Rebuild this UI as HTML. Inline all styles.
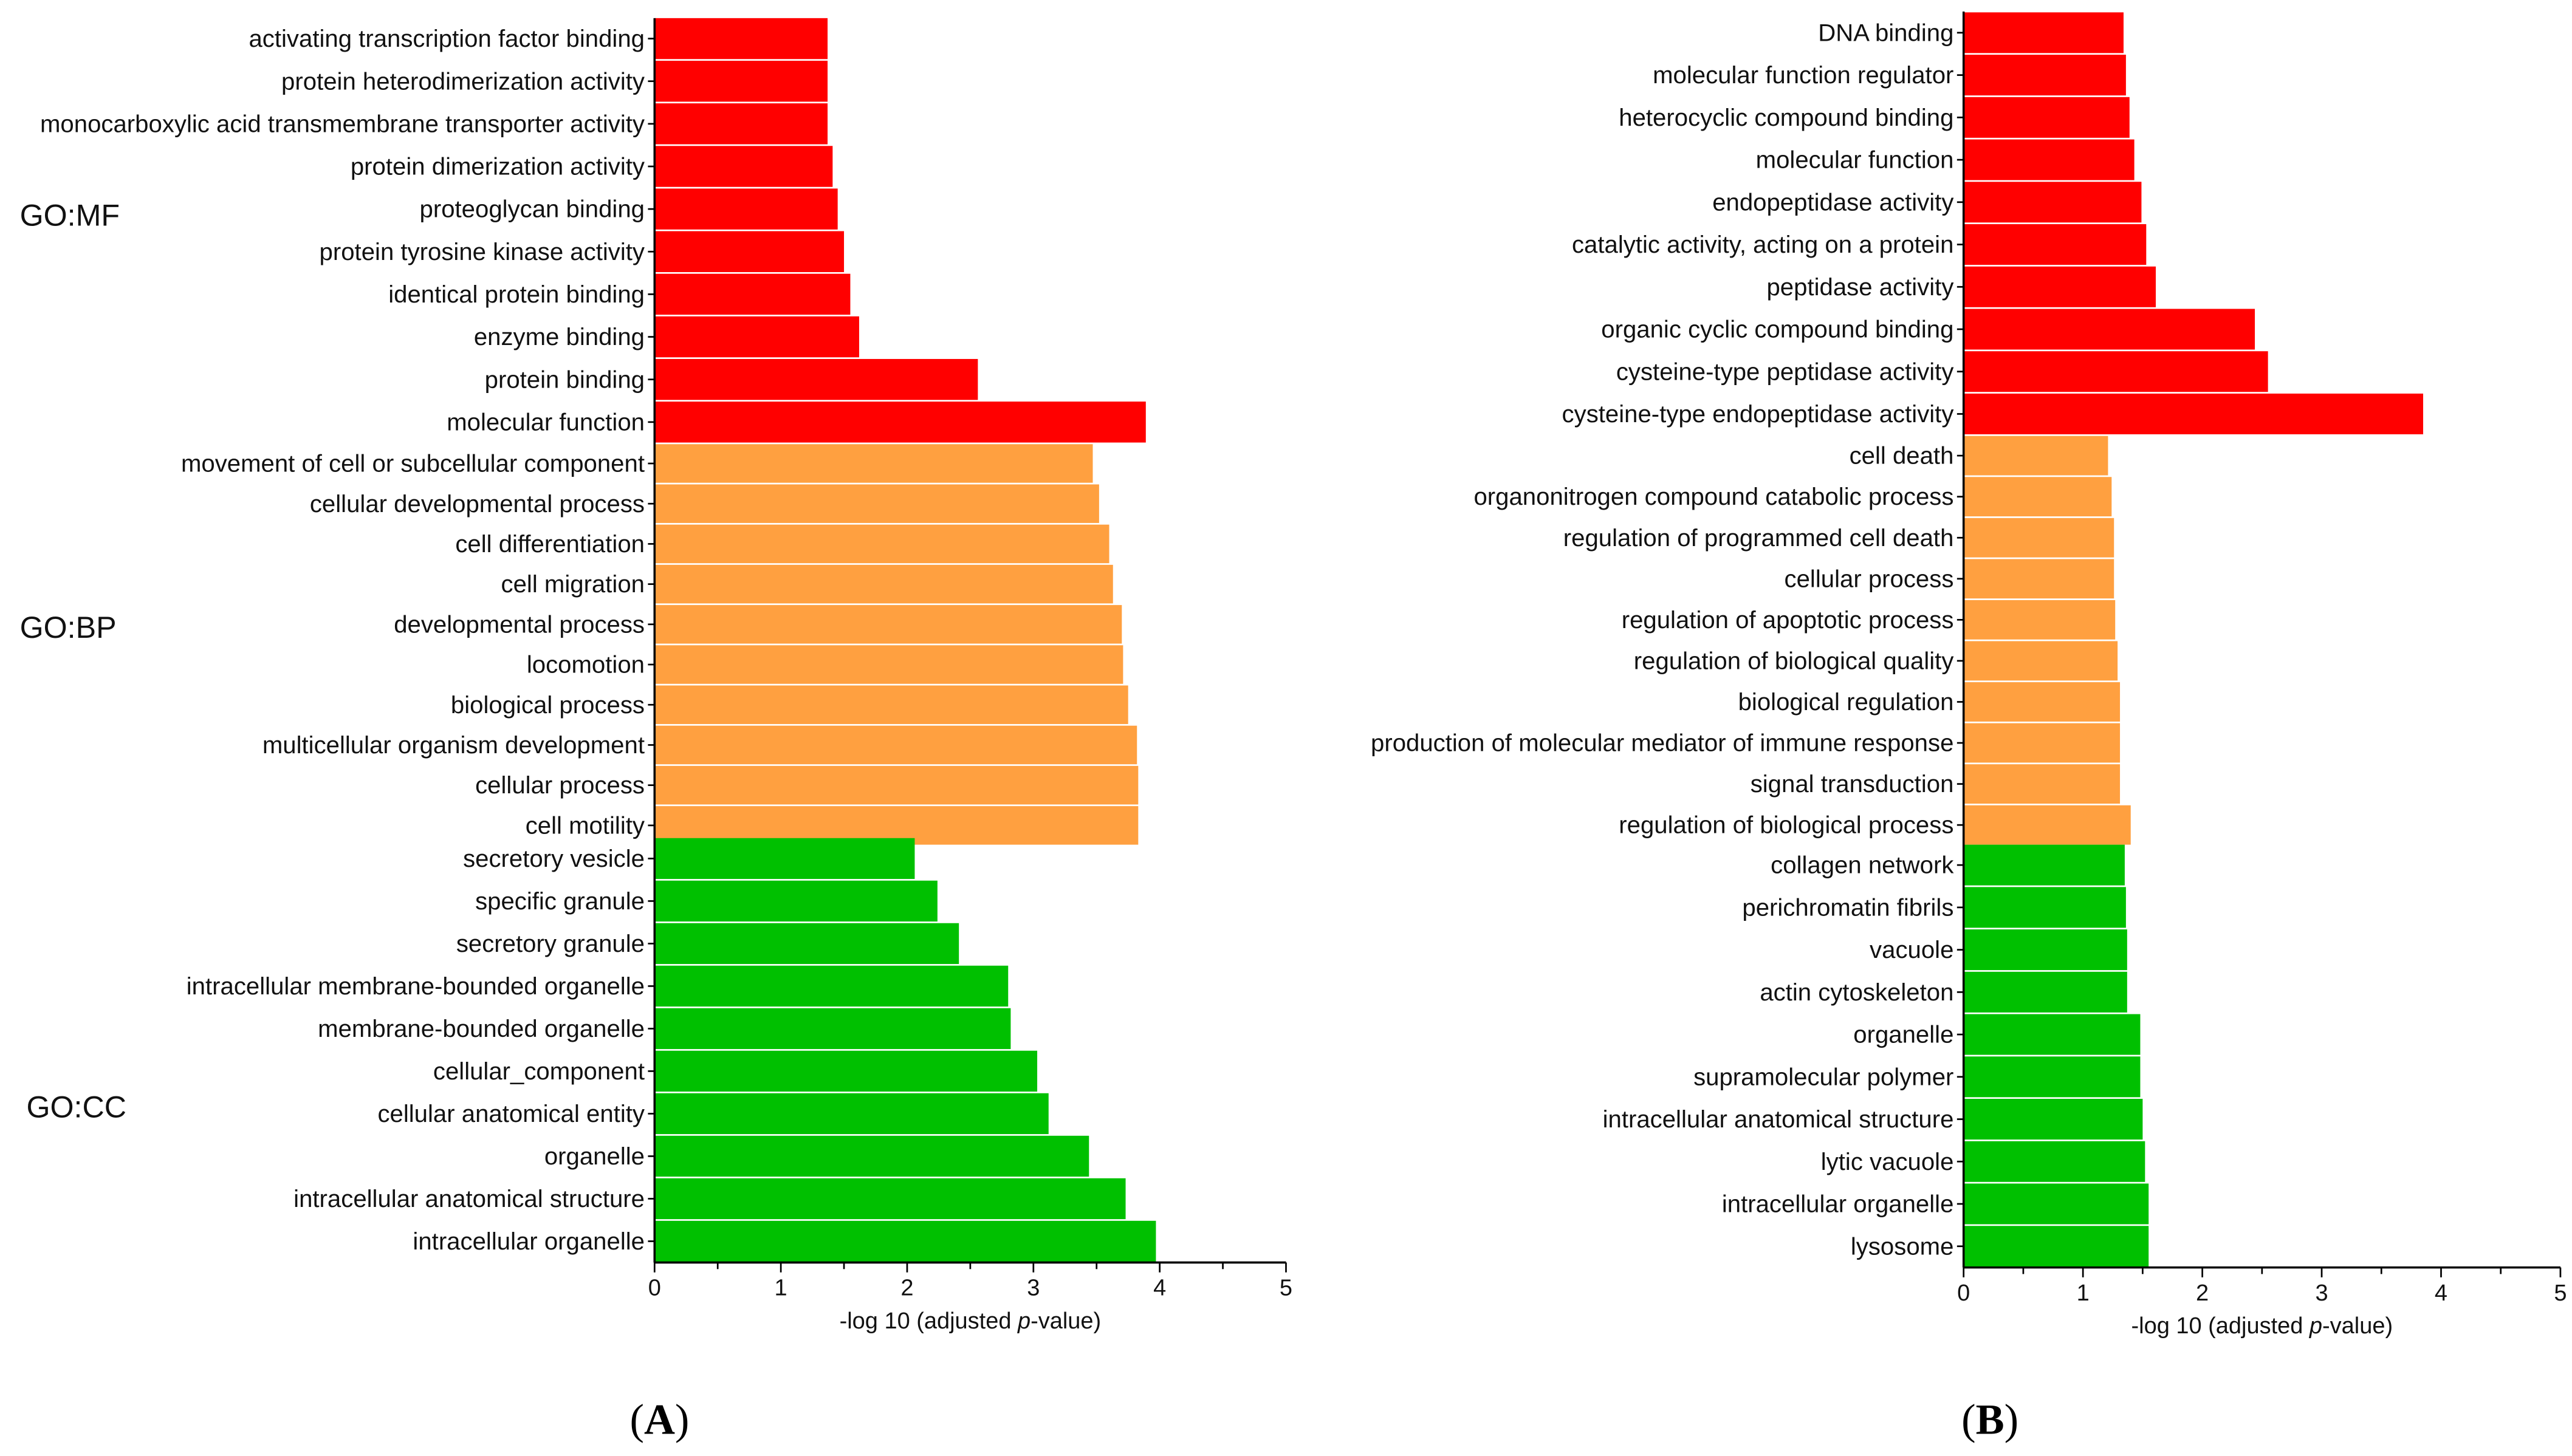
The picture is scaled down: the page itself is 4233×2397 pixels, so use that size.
<!DOCTYPE html>
<html><head><meta charset="utf-8"><style>
html,body{margin:0;padding:0;background:#fff;}
svg{display:block;}
text.sans{font-family:"Liberation Sans",Arial,sans-serif;}
text.serif{font-family:"Liberation Serif","Times New Roman",serif;}
</style></head><body>
<svg id="chart" width="4233" height="2397" viewBox="0 0 1560 883.4" xmlns="http://www.w3.org/2000/svg"></svg>
<script>
// ---- Panel A data ----
const catsA_MF = ["activating transcription factor binding","protein heterodimerization activity","monocarboxylic acid transmembrane transporter activity","protein dimerization activity","proteoglycan binding","protein tyrosine kinase activity","identical protein binding","enzyme binding","protein binding","molecular function"];
const valsA_MF = [1.37,1.37,1.37,1.41,1.45,1.50,1.55,1.62,2.56,3.89];
const catsA_BP = ["movement of cell or subcellular component","cellular developmental process","cell differentiation","cell migration","developmental process","locomotion","biological process","multicellular organism development","cellular process","cell motility"];
const valsA_BP = [3.47,3.52,3.60,3.63,3.70,3.71,3.75,3.82,3.83,3.83];
const catsA_CC = ["secretory vesicle","specific granule","secretory granule","intracellular membrane-bounded organelle","membrane-bounded organelle","cellular_component","cellular anatomical entity","organelle","intracellular anatomical structure","intracellular organelle"];
const valsA_CC = [2.06,2.24,2.41,2.80,2.82,3.03,3.12,3.44,3.73,3.97];
// ---- Panel B data ----
const catsB_MF = ["DNA binding","molecular function regulator","heterocyclic compound binding","molecular function","endopeptidase activity","catalytic activity, acting on a protein","peptidase activity","organic cyclic compound binding","cysteine-type peptidase activity","cysteine-type endopeptidase activity"];
const valsB_MF = [1.34,1.36,1.39,1.43,1.49,1.53,1.61,2.44,2.55,3.85];
const catsB_BP = ["cell death","organonitrogen compound catabolic process","regulation of programmed cell death","cellular process","regulation of apoptotic process","regulation of biological quality","biological regulation","production of molecular mediator of immune response","signal transduction","regulation of biological process"];
const valsB_BP = [1.21,1.24,1.26,1.26,1.27,1.29,1.31,1.31,1.31,1.40];
const catsB_CC = ["collagen network","perichromatin fibrils","vacuole","actin cytoskeleton","organelle","supramolecular polymer","intracellular anatomical structure","lytic vacuole","intracellular organelle","lysosome"];
const valsB_CC = [1.35,1.36,1.37,1.37,1.48,1.48,1.50,1.52,1.55,1.55];
const xTicks = [0,1,2,3,4,5];

const NS="http://www.w3.org/2000/svg";
const svg=document.getElementById('chart');
function mk(tag,attrs,parent){const e=document.createElementNS(NS,tag);for(const k in attrs)e.setAttribute(k,attrs[k]);(parent||svg).appendChild(e);return e;}

function panel(p){
  const g=mk('g',{});
  
  
  const xs=v=>p.x0+(p.x5-p.x0)*v/5;
  p.groups.forEach(gr=>{
    const n=gr.cats.length;
    const h=(gr.y1-gr.y0)/n;
    gr.cats.forEach((c,i)=>{
      const y=gr.y0+i*h;
      const r=mk('rect',{x:xs(0),y:y+0.5,width:xs(gr.vals[i])-xs(0),height:h-1,fill:gr.color},g);
      
      
      const cy=y+h/2;
      mk('line',{x1:xs(0)-4,x2:xs(0),y1:cy,y2:cy,stroke:'#000','stroke-width':1},g);
      const t=mk('text',{class:'sans',x:xs(0)-6,y:cy+5,'text-anchor':'end','font-size':14.8,fill:'#111'},g);
      t.textContent=c;
      
      
    });
    if(gr.label){
      const t=mk('text',{class:'sans',x:gr.lx,y:gr.ly,'font-size':18.5,fill:'#111'},g);
      t.textContent=gr.label;
      
      
    }
  });
  // axes
  mk('line',{x1:xs(0),x2:xs(0),y1:p.top,y2:p.axisY,stroke:'#000','stroke-width':1.3},g);
  mk('line',{x1:xs(0),x2:xs(5),y1:p.axisY,y2:p.axisY,stroke:'#000','stroke-width':1.3},g);
  for(let v=0;v<=5;v+=0.5){
    const major=Number.isInteger(v);
    mk('line',{x1:xs(v),x2:xs(v),y1:p.axisY,y2:p.axisY+(major?6:4),stroke:'#000','stroke-width':1},g);
  }
  xTicks.forEach(v=>{
    const t=mk('text',{class:'sans',x:xs(v),y:p.axisY+20,'text-anchor':'middle','font-size':14,fill:'#111'},g);
    t.textContent=v;
    
    
  });
  const at=mk('text',{class:'sans',x:(xs(0)+xs(5))/2,y:p.axisY+40,'text-anchor':'middle','font-size':14,fill:'#111'},g);
  at.innerHTML='-log 10 (adjusted <tspan font-style="italic">p</tspan>-value)';
  
  
  const pl=mk('text',{class:'serif',x:p.labX,y:870,'text-anchor':'middle','font-size':26,fill:'#000'},g);
  pl.innerHTML='(<tspan font-weight="bold">'+p.letter+'</tspan>)';
  
  
}

panel({name:'panel-a',letter:'A',labX:400,x0:397,x5:780,top:11,axisY:766,groups:[
  {cats:catsA_MF,vals:valsA_MF,color:'#ff0000',y0:10.5,y1:269,label:'GO:MF',lx:12,ly:137},
  {cats:catsA_BP,vals:valsA_BP,color:'#ffa040',y0:269,y1:513,label:'GO:BP',lx:12,ly:387},
  {cats:catsA_CC,vals:valsA_CC,color:'#00c000',y0:508,y1:766,label:'GO:CC',lx:16,ly:678}
]});
panel({name:'panel-b',letter:'B',labX:1207,x0:1191,x5:1553,top:7,axisY:769,groups:[
  {cats:catsB_MF,vals:valsB_MF,color:'#ff0000',y0:7,y1:264},
  {cats:catsB_BP,vals:valsB_BP,color:'#ffa040',y0:264,y1:513},
  {cats:catsB_CC,vals:valsB_CC,color:'#00c000',y0:512,y1:769}
]});
</script>
</body></html>
